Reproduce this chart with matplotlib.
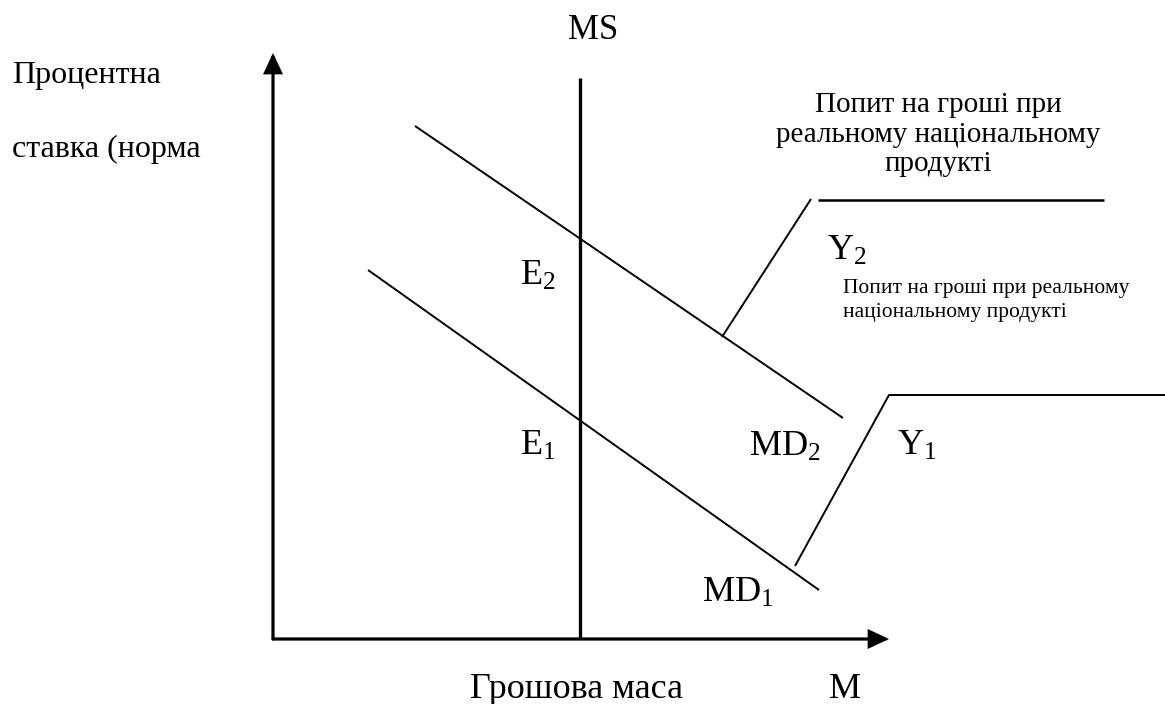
import matplotlib
matplotlib.use("Agg")
import matplotlib.pyplot as plt

plt.rcParams['font.family'] = ['Liberation Serif', 'DejaVu Serif']
plt.rcParams['mathtext.fontset'] = 'custom'
plt.rcParams['mathtext.rm'] = 'Liberation Serif'
plt.rcParams['mathtext.it'] = 'Liberation Serif'

# Diagram geometry (pixel-space coordinates of the schematic)
y_axis = [(273, 639), (273, 53)]
x_axis = [(273, 639), (889, 639)]
ms_line = [(580, 78), (580, 639)]
md2_line = [(415, 126), (843, 418)]
md1_line = [(368, 270), (819, 590)]
y2_leader = [(722, 337), (811, 199)]
y2_shelf = [(818, 200), (1104, 200)]
y1_leader = [(795, 566), (889, 395), (1165, 395)]

# (text, x, baseline y, horizontal alignment, size)
labels = [
    ("MS", 593, 39, 'center', 25),
    ("Процентна", 12, 83, 'left', 23),
    ("ставка (норма", 12, 157, 'left', 23),
    ("Попит на гроші при", 938, 112, 'center', 21),
    ("реальному національному", 938, 142, 'center', 21),
    ("продукті", 938, 171, 'center', 21),
    (r"Y$_2$", 827, 260, 'left', 26),
    ("Попит на гроші при реальному", 843, 293, 'left', 15.5),
    ("національному продукті", 843, 317, 'left', 15.5),
    (r"E$_2$", 520, 285, 'left', 26),
    (r"E$_1$", 520, 455, 'left', 26),
    (r"MD$_2$", 749, 456, 'left', 26),
    (r"Y$_1$", 897, 455, 'left', 26),
    (r"MD$_1$", 702, 602, 'left', 26),
    ("Грошова маса", 470, 698, 'left', 26),
    ("M", 829, 698, 'left', 26),
]

fig = plt.figure(figsize=(11.65, 7.04), dpi=100)
ax = fig.add_axes([0, 0, 1, 1])
ax.set_xlim(0, 1165)
ax.set_ylim(704, 0)
ax.axis('off')

for seg in (y_axis, x_axis):
    ax.annotate('', xy=seg[1], xytext=seg[0],
                arrowprops=dict(arrowstyle='-|>,head_length=0.96,head_width=0.45',
                                mutation_scale=12, lw=2.3, color='black',
                                shrinkA=0, shrinkB=0, joinstyle='miter'))

def draw(pts, lw=1.4):
    xs = [p[0] for p in pts]
    ys = [p[1] for p in pts]
    ax.plot(xs, ys, color='black', lw=lw, solid_capstyle='butt')

draw(ms_line, lw=2.4)
draw(md2_line)
draw(md1_line)
draw(y2_leader)
draw(y2_shelf, lw=1.8)
draw(y1_leader)

for t, x, y, ha, fs in labels:
    ax.text(x, y, t, fontsize=fs, ha=ha, va='baseline')

fig.savefig('out.png', dpi=100)
